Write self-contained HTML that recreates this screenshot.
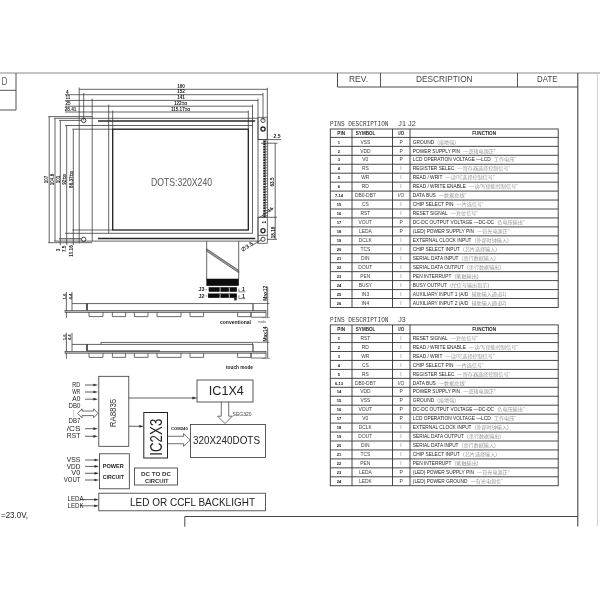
<!DOCTYPE html>
<html lang="en"><head><meta charset="utf-8"><title>LCD module drawing</title>
<style>html,body{margin:0;padding:0;background:#fff;}svg{display:block;transform:translateZ(0);}</style></head>
<body>
<svg width="600" height="600" viewBox="0 0 600 600">
<defs><filter id="soft" x="0" y="0" width="600" height="600" filterUnits="userSpaceOnUse"><feGaussianBlur stdDeviation="0.35"/></filter></defs>
<rect x="0" y="0" width="600" height="600" fill="#ffffff"/>
<g filter="url(#soft)">
<line x1="0" y1="73" x2="600" y2="73" stroke="#8a8a8a" stroke-width="1.2"/>
<line x1="16" y1="73" x2="16" y2="110" stroke="#444" stroke-width="0.9"/>
<line x1="0" y1="90.3" x2="16" y2="90.3" stroke="#444" stroke-width="0.9"/>
<line x1="0" y1="110" x2="16" y2="110" stroke="#444" stroke-width="0.9"/>
<text x="1.6" y="84.8" font-size="11" font-family='"Liberation Sans", "Noto Sans CJK SC", sans-serif' fill="#666" textLength="6" lengthAdjust="spacingAndGlyphs">D</text>
<line x1="337.5" y1="87" x2="577.5" y2="87" stroke="#333" stroke-width="0.9"/>
<line x1="337.5" y1="73" x2="337.5" y2="87" stroke="#333" stroke-width="0.9"/>
<line x1="380.5" y1="73" x2="380.5" y2="87" stroke="#444" stroke-width="0.9"/>
<line x1="517.5" y1="73" x2="517.5" y2="87" stroke="#444" stroke-width="0.9"/>
<line x1="577.8" y1="73" x2="577.8" y2="526.5" stroke="#333" stroke-width="1"/>
<line x1="597.5" y1="73" x2="597.5" y2="526" stroke="#c8c8c8" stroke-width="0.8"/>
<text x="358.5" y="82.2" font-size="8.6" font-family='"Liberation Sans", "Noto Sans CJK SC", sans-serif' fill="#444" text-anchor="middle" textLength="19" lengthAdjust="spacingAndGlyphs">REV.</text>
<text x="444.3" y="82.2" font-size="8.6" font-family='"Liberation Sans", "Noto Sans CJK SC", sans-serif' fill="#444" text-anchor="middle" textLength="56.5" lengthAdjust="spacingAndGlyphs">DESCRIPTION</text>
<text x="547.3" y="82.2" font-size="8.6" font-family='"Liberation Sans", "Noto Sans CJK SC", sans-serif' fill="#444" text-anchor="middle" textLength="20.5" lengthAdjust="spacingAndGlyphs">DATE</text>
<line x1="184.8" y1="516.5" x2="577.8" y2="516.5" stroke="#333" stroke-width="0.9"/>
<line x1="184.8" y1="516.5" x2="184.8" y2="526.7" stroke="#333" stroke-width="0.9"/>
<text x="1" y="518.3" font-size="9" font-family='"Liberation Sans", "Noto Sans CJK SC", sans-serif' fill="#222" textLength="27" lengthAdjust="spacingAndGlyphs">=23.0V,</text>
<text x="330" y="125.6" font-size="7.6" font-family='"Liberation Mono", "Noto Sans CJK SC", monospace' fill="#3a3a3a" textLength="58.5" lengthAdjust="spacingAndGlyphs">PINS DESCRIPTION</text>
<text x="398.3" y="125.6" font-size="7.6" font-family='"Liberation Sans", "Noto Sans CJK SC", sans-serif' fill="#444" textLength="17.5" lengthAdjust="spacingAndGlyphs">J1 J2</text>
<rect x="330.3" y="129" width="227.9" height="178.45" fill="none" stroke="#333" stroke-width="0.9"/>
<line x1="352" y1="129" x2="352" y2="307.45" stroke="#333" stroke-width="0.9"/>
<line x1="392.5" y1="129" x2="392.5" y2="307.45" stroke="#333" stroke-width="0.9"/>
<line x1="410" y1="129" x2="410" y2="307.45" stroke="#333" stroke-width="0.9"/>
<line x1="330.3" y1="137.4" x2="558.2" y2="137.4" stroke="#333" stroke-width="0.9"/>
<text x="341.15" y="134.9" font-size="4.6" font-family='"Liberation Sans", "Noto Sans CJK SC", sans-serif' fill="#222" text-anchor="middle" font-weight="bold">PIN</text>
<text x="355.8" y="134.9" font-size="4.6" font-family='"Liberation Sans", "Noto Sans CJK SC", sans-serif' fill="#222" font-weight="bold" textLength="19.5" lengthAdjust="spacingAndGlyphs">SYMBOL</text>
<text x="401.25" y="134.9" font-size="4.6" font-family='"Liberation Sans", "Noto Sans CJK SC", sans-serif' fill="#333" text-anchor="middle" font-weight="bold">I/O</text>
<text x="484.1" y="134.9" font-size="4.6" font-family='"Liberation Sans", "Noto Sans CJK SC", sans-serif' fill="#222" text-anchor="middle" font-weight="bold">FUNCTION</text>
<text x="338.95" y="143.57" font-size="4" font-family='"Liberation Sans", "Noto Sans CJK SC", sans-serif' fill="#111" text-anchor="middle" font-weight="bold">1</text>
<text x="365.3" y="143.57" font-size="4.9" font-family='"Liberation Sans", "Noto Sans CJK SC", sans-serif' fill="#3c3c3c" text-anchor="middle">VSS</text>
<text x="401.05" y="143.57" font-size="4.9" font-family='"Liberation Sans", "Noto Sans CJK SC", sans-serif' fill="#383838" text-anchor="middle">P</text>
<text x="412.8" y="143.57" font-size="4.8" font-family='"Liberation Sans", "Noto Sans CJK SC", sans-serif' fill="#262626">GROUND<tspan fill="#979797" font-size="5.1" dx="3.2">(接地端)</tspan></text>
<line x1="330.3" y1="146.35" x2="558.2" y2="146.35" stroke="#333" stroke-width="0.9"/>
<text x="338.95" y="152.52" font-size="4" font-family='"Liberation Sans", "Noto Sans CJK SC", sans-serif' fill="#111" text-anchor="middle" font-weight="bold">2</text>
<text x="365.3" y="152.52" font-size="4.9" font-family='"Liberation Sans", "Noto Sans CJK SC", sans-serif' fill="#3c3c3c" text-anchor="middle">VDD</text>
<text x="401.05" y="152.52" font-size="4.9" font-family='"Liberation Sans", "Noto Sans CJK SC", sans-serif' fill="#383838" text-anchor="middle">P</text>
<text x="412.8" y="152.52" font-size="4.8" font-family='"Liberation Sans", "Noto Sans CJK SC", sans-serif' fill="#262626">POWER SUPPLY PIN<tspan fill="#979797" font-size="5.1" dx="3.2">—逻辑电源正"</tspan></text>
<line x1="330.3" y1="155.3" x2="558.2" y2="155.3" stroke="#333" stroke-width="0.9"/>
<text x="338.95" y="161.47" font-size="4" font-family='"Liberation Sans", "Noto Sans CJK SC", sans-serif' fill="#111" text-anchor="middle" font-weight="bold">3</text>
<text x="365.3" y="161.47" font-size="4.9" font-family='"Liberation Sans", "Noto Sans CJK SC", sans-serif' fill="#3c3c3c" text-anchor="middle">V0</text>
<text x="401.05" y="161.47" font-size="4.9" font-family='"Liberation Sans", "Noto Sans CJK SC", sans-serif' fill="#383838" text-anchor="middle">P</text>
<text x="412.8" y="161.47" font-size="4.8" font-family='"Liberation Sans", "Noto Sans CJK SC", sans-serif' fill="#262626">LCD OPERATION VOLTAGE  —LCD<tspan fill="#979797" font-size="5.1" dx="3.2">工作电压"</tspan></text>
<line x1="330.3" y1="164.25" x2="558.2" y2="164.25" stroke="#333" stroke-width="0.9"/>
<text x="338.95" y="170.42" font-size="4" font-family='"Liberation Sans", "Noto Sans CJK SC", sans-serif' fill="#111" text-anchor="middle" font-weight="bold">4</text>
<text x="365.3" y="170.42" font-size="4.9" font-family='"Liberation Sans", "Noto Sans CJK SC", sans-serif' fill="#3c3c3c" text-anchor="middle">RS</text>
<text x="401.05" y="170.42" font-size="4.9" font-family='"Liberation Sans", "Noto Sans CJK SC", sans-serif' fill="#7a7a7a" text-anchor="middle">I</text>
<text x="412.8" y="170.42" font-size="4.8" font-family='"Liberation Sans", "Noto Sans CJK SC", sans-serif' fill="#262626">REGISTER SELEC<tspan fill="#979797" font-size="5.1" dx="3.2">—寄存器选择控制信号"</tspan></text>
<line x1="330.3" y1="173.2" x2="558.2" y2="173.2" stroke="#333" stroke-width="0.9"/>
<text x="338.95" y="179.37" font-size="4" font-family='"Liberation Sans", "Noto Sans CJK SC", sans-serif' fill="#111" text-anchor="middle" font-weight="bold">5</text>
<text x="365.3" y="179.37" font-size="4.9" font-family='"Liberation Sans", "Noto Sans CJK SC", sans-serif' fill="#3c3c3c" text-anchor="middle">WR</text>
<text x="401.05" y="179.37" font-size="4.9" font-family='"Liberation Sans", "Noto Sans CJK SC", sans-serif' fill="#7a7a7a" text-anchor="middle">I</text>
<text x="412.8" y="179.37" font-size="4.8" font-family='"Liberation Sans", "Noto Sans CJK SC", sans-serif' fill="#262626">READ / WRIT<tspan fill="#979797" font-size="5.1" dx="3.2">—读/写选择控制信号"</tspan></text>
<line x1="330.3" y1="182.15" x2="558.2" y2="182.15" stroke="#333" stroke-width="0.9"/>
<text x="338.95" y="188.32" font-size="4" font-family='"Liberation Sans", "Noto Sans CJK SC", sans-serif' fill="#111" text-anchor="middle" font-weight="bold">6</text>
<text x="365.3" y="188.32" font-size="4.9" font-family='"Liberation Sans", "Noto Sans CJK SC", sans-serif' fill="#3c3c3c" text-anchor="middle">RD</text>
<text x="401.05" y="188.32" font-size="4.9" font-family='"Liberation Sans", "Noto Sans CJK SC", sans-serif' fill="#7a7a7a" text-anchor="middle">I</text>
<text x="412.8" y="188.32" font-size="4.8" font-family='"Liberation Sans", "Noto Sans CJK SC", sans-serif' fill="#262626">READ / WRITE ENABLE<tspan fill="#979797" font-size="5.1" dx="3.2">—读/写使能控制信号"</tspan></text>
<line x1="330.3" y1="191.1" x2="558.2" y2="191.1" stroke="#333" stroke-width="0.9"/>
<text x="338.95" y="197.27" font-size="4" font-family='"Liberation Sans", "Noto Sans CJK SC", sans-serif' fill="#111" text-anchor="middle" font-weight="bold">7-14</text>
<text x="365.3" y="197.27" font-size="4.9" font-family='"Liberation Sans", "Noto Sans CJK SC", sans-serif' fill="#3c3c3c" text-anchor="middle">DB0-DB7</text>
<text x="401.05" y="197.27" font-size="4.9" font-family='"Liberation Sans", "Noto Sans CJK SC", sans-serif' fill="#484848" text-anchor="middle">I/O</text>
<text x="412.8" y="197.27" font-size="4.8" font-family='"Liberation Sans", "Noto Sans CJK SC", sans-serif' fill="#262626">DATA BUS<tspan fill="#979797" font-size="5.1" dx="3.2">—数据总线"</tspan></text>
<line x1="330.3" y1="200.05" x2="558.2" y2="200.05" stroke="#333" stroke-width="0.9"/>
<text x="338.95" y="206.22" font-size="4" font-family='"Liberation Sans", "Noto Sans CJK SC", sans-serif' fill="#111" text-anchor="middle" font-weight="bold">15</text>
<text x="365.3" y="206.22" font-size="4.9" font-family='"Liberation Sans", "Noto Sans CJK SC", sans-serif' fill="#3c3c3c" text-anchor="middle">CS</text>
<text x="401.05" y="206.22" font-size="4.9" font-family='"Liberation Sans", "Noto Sans CJK SC", sans-serif' fill="#7a7a7a" text-anchor="middle">I</text>
<text x="412.8" y="206.22" font-size="4.8" font-family='"Liberation Sans", "Noto Sans CJK SC", sans-serif' fill="#262626">CHIP SELECT PIN<tspan fill="#979797" font-size="5.1" dx="3.2">—片选信号"</tspan></text>
<line x1="330.3" y1="209" x2="558.2" y2="209" stroke="#333" stroke-width="0.9"/>
<text x="338.95" y="215.17" font-size="4" font-family='"Liberation Sans", "Noto Sans CJK SC", sans-serif' fill="#111" text-anchor="middle" font-weight="bold">16</text>
<text x="365.3" y="215.17" font-size="4.9" font-family='"Liberation Sans", "Noto Sans CJK SC", sans-serif' fill="#3c3c3c" text-anchor="middle">RST</text>
<text x="401.05" y="215.17" font-size="4.9" font-family='"Liberation Sans", "Noto Sans CJK SC", sans-serif' fill="#7a7a7a" text-anchor="middle">I</text>
<text x="412.8" y="215.17" font-size="4.8" font-family='"Liberation Sans", "Noto Sans CJK SC", sans-serif' fill="#262626">RESET SIGNAL<tspan fill="#979797" font-size="5.1" dx="3.2">—复位信号"</tspan></text>
<line x1="330.3" y1="217.95" x2="558.2" y2="217.95" stroke="#333" stroke-width="0.9"/>
<text x="338.95" y="224.12" font-size="4" font-family='"Liberation Sans", "Noto Sans CJK SC", sans-serif' fill="#111" text-anchor="middle" font-weight="bold">17</text>
<text x="365.3" y="224.12" font-size="4.9" font-family='"Liberation Sans", "Noto Sans CJK SC", sans-serif' fill="#3c3c3c" text-anchor="middle">VOUT</text>
<text x="401.05" y="224.12" font-size="4.9" font-family='"Liberation Sans", "Noto Sans CJK SC", sans-serif' fill="#383838" text-anchor="middle">P</text>
<text x="412.8" y="224.12" font-size="4.8" font-family='"Liberation Sans", "Noto Sans CJK SC", sans-serif' fill="#262626">DC-DC OUTPUT VOLTAGE  —DC-DC<tspan fill="#979797" font-size="5.1" dx="3.2">负电压输出"</tspan></text>
<line x1="330.3" y1="226.9" x2="558.2" y2="226.9" stroke="#333" stroke-width="0.9"/>
<text x="338.95" y="233.07" font-size="4" font-family='"Liberation Sans", "Noto Sans CJK SC", sans-serif' fill="#111" text-anchor="middle" font-weight="bold">18</text>
<text x="365.3" y="233.07" font-size="4.9" font-family='"Liberation Sans", "Noto Sans CJK SC", sans-serif' fill="#3c3c3c" text-anchor="middle">LEDA</text>
<text x="401.05" y="233.07" font-size="4.9" font-family='"Liberation Sans", "Noto Sans CJK SC", sans-serif' fill="#383838" text-anchor="middle">P</text>
<text x="412.8" y="233.07" font-size="4.8" font-family='"Liberation Sans", "Noto Sans CJK SC", sans-serif' fill="#262626">(LED)  POWER SUPPLY PIN<tspan fill="#979797" font-size="5.1" dx="3.2">—背光电源正"</tspan></text>
<line x1="330.3" y1="235.85" x2="558.2" y2="235.85" stroke="#333" stroke-width="0.9"/>
<text x="338.95" y="242.02" font-size="4" font-family='"Liberation Sans", "Noto Sans CJK SC", sans-serif' fill="#111" text-anchor="middle" font-weight="bold">19</text>
<text x="365.3" y="242.02" font-size="4.9" font-family='"Liberation Sans", "Noto Sans CJK SC", sans-serif' fill="#3c3c3c" text-anchor="middle">DCLK</text>
<text x="401.05" y="242.02" font-size="4.9" font-family='"Liberation Sans", "Noto Sans CJK SC", sans-serif' fill="#7a7a7a" text-anchor="middle">I</text>
<text x="412.8" y="242.02" font-size="4.8" font-family='"Liberation Sans", "Noto Sans CJK SC", sans-serif' fill="#262626">EXTERNAL CLOCK INPUT<tspan fill="#979797" font-size="5.1" dx="3.2">(外部时钟输入)</tspan></text>
<line x1="330.3" y1="244.8" x2="558.2" y2="244.8" stroke="#333" stroke-width="0.9"/>
<text x="338.95" y="250.97" font-size="4" font-family='"Liberation Sans", "Noto Sans CJK SC", sans-serif' fill="#111" text-anchor="middle" font-weight="bold">20</text>
<text x="365.3" y="250.97" font-size="4.9" font-family='"Liberation Sans", "Noto Sans CJK SC", sans-serif' fill="#3c3c3c" text-anchor="middle">TCS</text>
<text x="401.05" y="250.97" font-size="4.9" font-family='"Liberation Sans", "Noto Sans CJK SC", sans-serif' fill="#7a7a7a" text-anchor="middle">I</text>
<text x="412.8" y="250.97" font-size="4.8" font-family='"Liberation Sans", "Noto Sans CJK SC", sans-serif' fill="#262626">CHIP SELECT INPUT<tspan fill="#979797" font-size="5.1" dx="3.2">(芯片选择输入)</tspan></text>
<line x1="330.3" y1="253.75" x2="558.2" y2="253.75" stroke="#333" stroke-width="0.9"/>
<text x="338.95" y="259.93" font-size="4" font-family='"Liberation Sans", "Noto Sans CJK SC", sans-serif' fill="#111" text-anchor="middle" font-weight="bold">21</text>
<text x="365.3" y="259.93" font-size="4.9" font-family='"Liberation Sans", "Noto Sans CJK SC", sans-serif' fill="#3c3c3c" text-anchor="middle">DIN</text>
<text x="401.05" y="259.93" font-size="4.9" font-family='"Liberation Sans", "Noto Sans CJK SC", sans-serif' fill="#7a7a7a" text-anchor="middle">I</text>
<text x="412.8" y="259.93" font-size="4.8" font-family='"Liberation Sans", "Noto Sans CJK SC", sans-serif' fill="#262626">SERIAL DATA INPUT<tspan fill="#979797" font-size="5.1" dx="3.2">(串行数据输入)</tspan></text>
<line x1="330.3" y1="262.7" x2="558.2" y2="262.7" stroke="#333" stroke-width="0.9"/>
<text x="338.95" y="268.88" font-size="4" font-family='"Liberation Sans", "Noto Sans CJK SC", sans-serif' fill="#111" text-anchor="middle" font-weight="bold">22</text>
<text x="365.3" y="268.88" font-size="4.9" font-family='"Liberation Sans", "Noto Sans CJK SC", sans-serif' fill="#3c3c3c" text-anchor="middle">DOUT</text>
<text x="401.05" y="268.88" font-size="4.9" font-family='"Liberation Sans", "Noto Sans CJK SC", sans-serif' fill="#7a7a7a" text-anchor="middle">I</text>
<text x="412.8" y="268.88" font-size="4.8" font-family='"Liberation Sans", "Noto Sans CJK SC", sans-serif' fill="#262626">SERIAL DATA OUTPUT<tspan fill="#979797" font-size="5.1" dx="3.2">(串行数据输出)</tspan></text>
<line x1="330.3" y1="271.65" x2="558.2" y2="271.65" stroke="#333" stroke-width="0.9"/>
<text x="338.95" y="277.82" font-size="4" font-family='"Liberation Sans", "Noto Sans CJK SC", sans-serif' fill="#111" text-anchor="middle" font-weight="bold">23</text>
<text x="365.3" y="277.82" font-size="4.9" font-family='"Liberation Sans", "Noto Sans CJK SC", sans-serif' fill="#3c3c3c" text-anchor="middle">PEN</text>
<text x="401.05" y="277.82" font-size="4.9" font-family='"Liberation Sans", "Noto Sans CJK SC", sans-serif' fill="#7a7a7a" text-anchor="middle">I</text>
<text x="412.8" y="277.82" font-size="4.8" font-family='"Liberation Sans", "Noto Sans CJK SC", sans-serif' fill="#262626">PEN INTERRUPT<tspan fill="#979797" font-size="5.1" dx="3.2">(笔触输出)</tspan></text>
<line x1="330.3" y1="280.6" x2="558.2" y2="280.6" stroke="#333" stroke-width="0.9"/>
<text x="338.95" y="286.78" font-size="4" font-family='"Liberation Sans", "Noto Sans CJK SC", sans-serif' fill="#111" text-anchor="middle" font-weight="bold">24</text>
<text x="365.3" y="286.78" font-size="4.9" font-family='"Liberation Sans", "Noto Sans CJK SC", sans-serif' fill="#3c3c3c" text-anchor="middle">BUSY</text>
<text x="401.05" y="286.78" font-size="4.9" font-family='"Liberation Sans", "Noto Sans CJK SC", sans-serif' fill="#7a7a7a" text-anchor="middle">I</text>
<text x="412.8" y="286.78" font-size="4.8" font-family='"Liberation Sans", "Noto Sans CJK SC", sans-serif' fill="#262626">BUSY OUTPUT<tspan fill="#979797" font-size="5.1" dx="3.2">(忙信号输出指示)</tspan></text>
<line x1="330.3" y1="289.55" x2="558.2" y2="289.55" stroke="#333" stroke-width="0.9"/>
<text x="338.95" y="295.72" font-size="4" font-family='"Liberation Sans", "Noto Sans CJK SC", sans-serif' fill="#111" text-anchor="middle" font-weight="bold">25</text>
<text x="365.3" y="295.72" font-size="4.9" font-family='"Liberation Sans", "Noto Sans CJK SC", sans-serif' fill="#3c3c3c" text-anchor="middle">IN3</text>
<text x="401.05" y="295.72" font-size="4.9" font-family='"Liberation Sans", "Noto Sans CJK SC", sans-serif' fill="#7a7a7a" text-anchor="middle">I</text>
<text x="412.8" y="295.72" font-size="4.8" font-family='"Liberation Sans", "Noto Sans CJK SC", sans-serif' fill="#262626">AUXILIARY INPUT 1 (A/D<tspan fill="#979797" font-size="5.1" dx="3.2">辅助输入通道1)</tspan></text>
<line x1="330.3" y1="298.5" x2="558.2" y2="298.5" stroke="#333" stroke-width="0.9"/>
<text x="338.95" y="304.68" font-size="4" font-family='"Liberation Sans", "Noto Sans CJK SC", sans-serif' fill="#111" text-anchor="middle" font-weight="bold">26</text>
<text x="365.3" y="304.68" font-size="4.9" font-family='"Liberation Sans", "Noto Sans CJK SC", sans-serif' fill="#3c3c3c" text-anchor="middle">IN4</text>
<text x="401.05" y="304.68" font-size="4.9" font-family='"Liberation Sans", "Noto Sans CJK SC", sans-serif' fill="#7a7a7a" text-anchor="middle">I</text>
<text x="412.8" y="304.68" font-size="4.8" font-family='"Liberation Sans", "Noto Sans CJK SC", sans-serif' fill="#262626">AUXILIARY INPUT 2 (A/D<tspan fill="#979797" font-size="5.1" dx="3.2">辅助输入通道2)</tspan></text>
<text x="330" y="322.2" font-size="7.6" font-family='"Liberation Mono", "Noto Sans CJK SC", monospace' fill="#3a3a3a" textLength="58.5" lengthAdjust="spacingAndGlyphs">PINS DESCRIPTION</text>
<text x="398.3" y="322.2" font-size="7.6" font-family='"Liberation Sans", "Noto Sans CJK SC", sans-serif' fill="#444" textLength="7.5" lengthAdjust="spacingAndGlyphs">J3</text>
<rect x="330.3" y="324.9" width="227.9" height="160.85" fill="none" stroke="#333" stroke-width="0.9"/>
<line x1="352" y1="324.9" x2="352" y2="485.75" stroke="#333" stroke-width="0.9"/>
<line x1="392.5" y1="324.9" x2="392.5" y2="485.75" stroke="#333" stroke-width="0.9"/>
<line x1="410" y1="324.9" x2="410" y2="485.75" stroke="#333" stroke-width="0.9"/>
<line x1="330.3" y1="333.6" x2="558.2" y2="333.6" stroke="#333" stroke-width="0.9"/>
<text x="341.15" y="330.95" font-size="4.6" font-family='"Liberation Sans", "Noto Sans CJK SC", sans-serif' fill="#222" text-anchor="middle" font-weight="bold">PIN</text>
<text x="355.8" y="330.95" font-size="4.6" font-family='"Liberation Sans", "Noto Sans CJK SC", sans-serif' fill="#222" font-weight="bold" textLength="19.5" lengthAdjust="spacingAndGlyphs">SYMBOL</text>
<text x="401.25" y="330.95" font-size="4.6" font-family='"Liberation Sans", "Noto Sans CJK SC", sans-serif' fill="#333" text-anchor="middle" font-weight="bold">I/O</text>
<text x="484.1" y="330.95" font-size="4.6" font-family='"Liberation Sans", "Noto Sans CJK SC", sans-serif' fill="#222" text-anchor="middle" font-weight="bold">FUNCTION</text>
<text x="338.95" y="339.78" font-size="4" font-family='"Liberation Sans", "Noto Sans CJK SC", sans-serif' fill="#111" text-anchor="middle" font-weight="bold">1</text>
<text x="365.3" y="339.78" font-size="4.9" font-family='"Liberation Sans", "Noto Sans CJK SC", sans-serif' fill="#3c3c3c" text-anchor="middle">RST</text>
<text x="401.05" y="339.78" font-size="4.9" font-family='"Liberation Sans", "Noto Sans CJK SC", sans-serif' fill="#7a7a7a" text-anchor="middle">I</text>
<text x="412.8" y="339.78" font-size="4.8" font-family='"Liberation Sans", "Noto Sans CJK SC", sans-serif' fill="#262626">RESET SIGNAL<tspan fill="#979797" font-size="5.1" dx="3.2">—复位信号"</tspan></text>
<line x1="330.3" y1="342.55" x2="558.2" y2="342.55" stroke="#333" stroke-width="0.9"/>
<text x="338.95" y="348.73" font-size="4" font-family='"Liberation Sans", "Noto Sans CJK SC", sans-serif' fill="#111" text-anchor="middle" font-weight="bold">2</text>
<text x="365.3" y="348.73" font-size="4.9" font-family='"Liberation Sans", "Noto Sans CJK SC", sans-serif' fill="#3c3c3c" text-anchor="middle">RD</text>
<text x="401.05" y="348.73" font-size="4.9" font-family='"Liberation Sans", "Noto Sans CJK SC", sans-serif' fill="#7a7a7a" text-anchor="middle">I</text>
<text x="412.8" y="348.73" font-size="4.8" font-family='"Liberation Sans", "Noto Sans CJK SC", sans-serif' fill="#262626">READ / WRITE ENABLE<tspan fill="#979797" font-size="5.1" dx="3.2">—读/写使能控制信号"</tspan></text>
<line x1="330.3" y1="351.5" x2="558.2" y2="351.5" stroke="#333" stroke-width="0.9"/>
<text x="338.95" y="357.68" font-size="4" font-family='"Liberation Sans", "Noto Sans CJK SC", sans-serif' fill="#111" text-anchor="middle" font-weight="bold">3</text>
<text x="365.3" y="357.68" font-size="4.9" font-family='"Liberation Sans", "Noto Sans CJK SC", sans-serif' fill="#3c3c3c" text-anchor="middle">WR</text>
<text x="401.05" y="357.68" font-size="4.9" font-family='"Liberation Sans", "Noto Sans CJK SC", sans-serif' fill="#7a7a7a" text-anchor="middle">I</text>
<text x="412.8" y="357.68" font-size="4.8" font-family='"Liberation Sans", "Noto Sans CJK SC", sans-serif' fill="#262626">READ / WRIT<tspan fill="#979797" font-size="5.1" dx="3.2">—读/写选择控制信号"</tspan></text>
<line x1="330.3" y1="360.45" x2="558.2" y2="360.45" stroke="#333" stroke-width="0.9"/>
<text x="338.95" y="366.63" font-size="4" font-family='"Liberation Sans", "Noto Sans CJK SC", sans-serif' fill="#111" text-anchor="middle" font-weight="bold">4</text>
<text x="365.3" y="366.63" font-size="4.9" font-family='"Liberation Sans", "Noto Sans CJK SC", sans-serif' fill="#3c3c3c" text-anchor="middle">CS</text>
<text x="401.05" y="366.63" font-size="4.9" font-family='"Liberation Sans", "Noto Sans CJK SC", sans-serif' fill="#7a7a7a" text-anchor="middle">I</text>
<text x="412.8" y="366.63" font-size="4.8" font-family='"Liberation Sans", "Noto Sans CJK SC", sans-serif' fill="#262626">CHIP SELECT PIN<tspan fill="#979797" font-size="5.1" dx="3.2">—片选信号"</tspan></text>
<line x1="330.3" y1="369.4" x2="558.2" y2="369.4" stroke="#333" stroke-width="0.9"/>
<text x="338.95" y="375.58" font-size="4" font-family='"Liberation Sans", "Noto Sans CJK SC", sans-serif' fill="#111" text-anchor="middle" font-weight="bold">5</text>
<text x="365.3" y="375.58" font-size="4.9" font-family='"Liberation Sans", "Noto Sans CJK SC", sans-serif' fill="#3c3c3c" text-anchor="middle">RS</text>
<text x="401.05" y="375.58" font-size="4.9" font-family='"Liberation Sans", "Noto Sans CJK SC", sans-serif' fill="#7a7a7a" text-anchor="middle">I</text>
<text x="412.8" y="375.58" font-size="4.8" font-family='"Liberation Sans", "Noto Sans CJK SC", sans-serif' fill="#262626">REGISTER SELEC<tspan fill="#979797" font-size="5.1" dx="3.2">—寄存器选择控制信号"</tspan></text>
<line x1="330.3" y1="378.35" x2="558.2" y2="378.35" stroke="#333" stroke-width="0.9"/>
<text x="338.95" y="384.53" font-size="4" font-family='"Liberation Sans", "Noto Sans CJK SC", sans-serif' fill="#111" text-anchor="middle" font-weight="bold">6-13</text>
<text x="365.3" y="384.53" font-size="4.9" font-family='"Liberation Sans", "Noto Sans CJK SC", sans-serif' fill="#3c3c3c" text-anchor="middle">DB0-DB7</text>
<text x="401.05" y="384.53" font-size="4.9" font-family='"Liberation Sans", "Noto Sans CJK SC", sans-serif' fill="#484848" text-anchor="middle">I/O</text>
<text x="412.8" y="384.53" font-size="4.8" font-family='"Liberation Sans", "Noto Sans CJK SC", sans-serif' fill="#262626">DATA BUS<tspan fill="#979797" font-size="5.1" dx="3.2">—数据总线"</tspan></text>
<line x1="330.3" y1="387.3" x2="558.2" y2="387.3" stroke="#333" stroke-width="0.9"/>
<text x="338.95" y="393.48" font-size="4" font-family='"Liberation Sans", "Noto Sans CJK SC", sans-serif' fill="#111" text-anchor="middle" font-weight="bold">14</text>
<text x="365.3" y="393.48" font-size="4.9" font-family='"Liberation Sans", "Noto Sans CJK SC", sans-serif' fill="#3c3c3c" text-anchor="middle">VDD</text>
<text x="401.05" y="393.48" font-size="4.9" font-family='"Liberation Sans", "Noto Sans CJK SC", sans-serif' fill="#383838" text-anchor="middle">P</text>
<text x="412.8" y="393.48" font-size="4.8" font-family='"Liberation Sans", "Noto Sans CJK SC", sans-serif' fill="#262626">POWER SUPPLY PIN<tspan fill="#979797" font-size="5.1" dx="3.2">—逻辑电源正"</tspan></text>
<line x1="330.3" y1="396.25" x2="558.2" y2="396.25" stroke="#333" stroke-width="0.9"/>
<text x="338.95" y="402.43" font-size="4" font-family='"Liberation Sans", "Noto Sans CJK SC", sans-serif' fill="#111" text-anchor="middle" font-weight="bold">15</text>
<text x="365.3" y="402.43" font-size="4.9" font-family='"Liberation Sans", "Noto Sans CJK SC", sans-serif' fill="#3c3c3c" text-anchor="middle">VSS</text>
<text x="401.05" y="402.43" font-size="4.9" font-family='"Liberation Sans", "Noto Sans CJK SC", sans-serif' fill="#383838" text-anchor="middle">P</text>
<text x="412.8" y="402.43" font-size="4.8" font-family='"Liberation Sans", "Noto Sans CJK SC", sans-serif' fill="#262626">GROUND<tspan fill="#979797" font-size="5.1" dx="3.2">(接地端)</tspan></text>
<line x1="330.3" y1="405.2" x2="558.2" y2="405.2" stroke="#333" stroke-width="0.9"/>
<text x="338.95" y="411.38" font-size="4" font-family='"Liberation Sans", "Noto Sans CJK SC", sans-serif' fill="#111" text-anchor="middle" font-weight="bold">16</text>
<text x="365.3" y="411.38" font-size="4.9" font-family='"Liberation Sans", "Noto Sans CJK SC", sans-serif' fill="#3c3c3c" text-anchor="middle">VOUT</text>
<text x="401.05" y="411.38" font-size="4.9" font-family='"Liberation Sans", "Noto Sans CJK SC", sans-serif' fill="#383838" text-anchor="middle">P</text>
<text x="412.8" y="411.38" font-size="4.8" font-family='"Liberation Sans", "Noto Sans CJK SC", sans-serif' fill="#262626">DC-DC OUTPUT VOLTAGE  —DC-DC<tspan fill="#979797" font-size="5.1" dx="3.2">负电压输出"</tspan></text>
<line x1="330.3" y1="414.15" x2="558.2" y2="414.15" stroke="#333" stroke-width="0.9"/>
<text x="338.95" y="420.33" font-size="4" font-family='"Liberation Sans", "Noto Sans CJK SC", sans-serif' fill="#111" text-anchor="middle" font-weight="bold">17</text>
<text x="365.3" y="420.33" font-size="4.9" font-family='"Liberation Sans", "Noto Sans CJK SC", sans-serif' fill="#3c3c3c" text-anchor="middle">V0</text>
<text x="401.05" y="420.33" font-size="4.9" font-family='"Liberation Sans", "Noto Sans CJK SC", sans-serif' fill="#383838" text-anchor="middle">P</text>
<text x="412.8" y="420.33" font-size="4.8" font-family='"Liberation Sans", "Noto Sans CJK SC", sans-serif' fill="#262626">LCD OPERATION VOLTAGE  —LCD<tspan fill="#979797" font-size="5.1" dx="3.2">工作电压"</tspan></text>
<line x1="330.3" y1="423.1" x2="558.2" y2="423.1" stroke="#333" stroke-width="0.9"/>
<text x="338.95" y="429.28" font-size="4" font-family='"Liberation Sans", "Noto Sans CJK SC", sans-serif' fill="#111" text-anchor="middle" font-weight="bold">18</text>
<text x="365.3" y="429.28" font-size="4.9" font-family='"Liberation Sans", "Noto Sans CJK SC", sans-serif' fill="#3c3c3c" text-anchor="middle">DCLK</text>
<text x="401.05" y="429.28" font-size="4.9" font-family='"Liberation Sans", "Noto Sans CJK SC", sans-serif' fill="#7a7a7a" text-anchor="middle">I</text>
<text x="412.8" y="429.28" font-size="4.8" font-family='"Liberation Sans", "Noto Sans CJK SC", sans-serif' fill="#262626">EXTERNAL CLOCK INPUT<tspan fill="#979797" font-size="5.1" dx="3.2">(外部时钟输入)</tspan></text>
<line x1="330.3" y1="432.05" x2="558.2" y2="432.05" stroke="#333" stroke-width="0.9"/>
<text x="338.95" y="438.23" font-size="4" font-family='"Liberation Sans", "Noto Sans CJK SC", sans-serif' fill="#111" text-anchor="middle" font-weight="bold">19</text>
<text x="365.3" y="438.23" font-size="4.9" font-family='"Liberation Sans", "Noto Sans CJK SC", sans-serif' fill="#3c3c3c" text-anchor="middle">DOUT</text>
<text x="401.05" y="438.23" font-size="4.9" font-family='"Liberation Sans", "Noto Sans CJK SC", sans-serif' fill="#7a7a7a" text-anchor="middle">I</text>
<text x="412.8" y="438.23" font-size="4.8" font-family='"Liberation Sans", "Noto Sans CJK SC", sans-serif' fill="#262626">SERIAL DATA OUTPUT<tspan fill="#979797" font-size="5.1" dx="3.2">(串行数据输出)</tspan></text>
<line x1="330.3" y1="441" x2="558.2" y2="441" stroke="#333" stroke-width="0.9"/>
<text x="338.95" y="447.18" font-size="4" font-family='"Liberation Sans", "Noto Sans CJK SC", sans-serif' fill="#111" text-anchor="middle" font-weight="bold">20</text>
<text x="365.3" y="447.18" font-size="4.9" font-family='"Liberation Sans", "Noto Sans CJK SC", sans-serif' fill="#3c3c3c" text-anchor="middle">DIN</text>
<text x="401.05" y="447.18" font-size="4.9" font-family='"Liberation Sans", "Noto Sans CJK SC", sans-serif' fill="#7a7a7a" text-anchor="middle">I</text>
<text x="412.8" y="447.18" font-size="4.8" font-family='"Liberation Sans", "Noto Sans CJK SC", sans-serif' fill="#262626">SERIAL DATA INPUT<tspan fill="#979797" font-size="5.1" dx="3.2">(串行数据输入)</tspan></text>
<line x1="330.3" y1="449.95" x2="558.2" y2="449.95" stroke="#333" stroke-width="0.9"/>
<text x="338.95" y="456.13" font-size="4" font-family='"Liberation Sans", "Noto Sans CJK SC", sans-serif' fill="#111" text-anchor="middle" font-weight="bold">21</text>
<text x="365.3" y="456.13" font-size="4.9" font-family='"Liberation Sans", "Noto Sans CJK SC", sans-serif' fill="#3c3c3c" text-anchor="middle">TCS</text>
<text x="401.05" y="456.13" font-size="4.9" font-family='"Liberation Sans", "Noto Sans CJK SC", sans-serif' fill="#7a7a7a" text-anchor="middle">I</text>
<text x="412.8" y="456.13" font-size="4.8" font-family='"Liberation Sans", "Noto Sans CJK SC", sans-serif' fill="#262626">CHIP SELECT INPUT<tspan fill="#979797" font-size="5.1" dx="3.2">(芯片选择输入)</tspan></text>
<line x1="330.3" y1="458.9" x2="558.2" y2="458.9" stroke="#333" stroke-width="0.9"/>
<text x="338.95" y="465.07" font-size="4" font-family='"Liberation Sans", "Noto Sans CJK SC", sans-serif' fill="#111" text-anchor="middle" font-weight="bold">22</text>
<text x="365.3" y="465.07" font-size="4.9" font-family='"Liberation Sans", "Noto Sans CJK SC", sans-serif' fill="#3c3c3c" text-anchor="middle">PEN</text>
<text x="401.05" y="465.07" font-size="4.9" font-family='"Liberation Sans", "Noto Sans CJK SC", sans-serif' fill="#7a7a7a" text-anchor="middle">I</text>
<text x="412.8" y="465.07" font-size="4.8" font-family='"Liberation Sans", "Noto Sans CJK SC", sans-serif' fill="#262626">PEN INTERRUPT<tspan fill="#979797" font-size="5.1" dx="3.2">(笔触输出)</tspan></text>
<line x1="330.3" y1="467.85" x2="558.2" y2="467.85" stroke="#333" stroke-width="0.9"/>
<text x="338.95" y="474.03" font-size="4" font-family='"Liberation Sans", "Noto Sans CJK SC", sans-serif' fill="#111" text-anchor="middle" font-weight="bold">23</text>
<text x="365.3" y="474.03" font-size="4.9" font-family='"Liberation Sans", "Noto Sans CJK SC", sans-serif' fill="#3c3c3c" text-anchor="middle">LEDA</text>
<text x="401.05" y="474.03" font-size="4.9" font-family='"Liberation Sans", "Noto Sans CJK SC", sans-serif' fill="#383838" text-anchor="middle">P</text>
<text x="412.8" y="474.03" font-size="4.8" font-family='"Liberation Sans", "Noto Sans CJK SC", sans-serif' fill="#262626">(LED)  POWER SUPPLY PIN<tspan fill="#979797" font-size="5.1" dx="3.2">—背光电源正"</tspan></text>
<line x1="330.3" y1="476.8" x2="558.2" y2="476.8" stroke="#333" stroke-width="0.9"/>
<text x="338.95" y="482.98" font-size="4" font-family='"Liberation Sans", "Noto Sans CJK SC", sans-serif' fill="#111" text-anchor="middle" font-weight="bold">24</text>
<text x="365.3" y="482.98" font-size="4.9" font-family='"Liberation Sans", "Noto Sans CJK SC", sans-serif' fill="#3c3c3c" text-anchor="middle">LEDK</text>
<text x="401.05" y="482.98" font-size="4.9" font-family='"Liberation Sans", "Noto Sans CJK SC", sans-serif' fill="#383838" text-anchor="middle">P</text>
<text x="412.8" y="482.98" font-size="4.8" font-family='"Liberation Sans", "Noto Sans CJK SC", sans-serif' fill="#262626">(LED)  POWER GROUND<tspan fill="#979797" font-size="5.1" dx="3.2">—背光电源负"</tspan></text>
<line x1="79.2" y1="89.3" x2="267.3" y2="89.3" stroke="#3c3c3c" stroke-width="0.8"/>
<line x1="65" y1="94.7" x2="263" y2="94.7" stroke="#3c3c3c" stroke-width="0.8"/>
<line x1="65" y1="100.4" x2="258" y2="100.4" stroke="#3c3c3c" stroke-width="0.8"/>
<line x1="65" y1="106.2" x2="252.5" y2="106.2" stroke="#3c3c3c" stroke-width="0.8"/>
<line x1="65" y1="112" x2="248.3" y2="112" stroke="#3c3c3c" stroke-width="0.8"/>
<line x1="79.2" y1="87.5" x2="79.2" y2="243.3" stroke="#3c3c3c" stroke-width="0.8"/>
<line x1="83.7" y1="93" x2="83.7" y2="120.4" stroke="#3c3c3c" stroke-width="0.8"/>
<line x1="92.2" y1="98.6" x2="92.2" y2="241.3" stroke="#3c3c3c" stroke-width="0.8"/>
<line x1="108.7" y1="104.6" x2="108.7" y2="233.3" stroke="#3c3c3c" stroke-width="0.8"/>
<line x1="112.7" y1="110.5" x2="112.7" y2="129.2" stroke="#3c3c3c" stroke-width="0.8"/>
<line x1="248.3" y1="110.5" x2="248.3" y2="129.2" stroke="#3c3c3c" stroke-width="0.8"/>
<line x1="252.5" y1="104.6" x2="252.5" y2="233.3" stroke="#3c3c3c" stroke-width="0.8"/>
<line x1="258" y1="98.6" x2="258" y2="243.3" stroke="#3c3c3c" stroke-width="0.8"/>
<line x1="263" y1="93" x2="263" y2="120.4" stroke="#3c3c3c" stroke-width="0.8"/>
<line x1="267.3" y1="87.8" x2="267.3" y2="139.6" stroke="#3c3c3c" stroke-width="0.8"/>
<text x="181" y="88" font-size="4.6" font-family='"Liberation Sans", "Noto Sans CJK SC", sans-serif' fill="#222" text-anchor="middle" font-weight="bold">160</text>
<text x="181" y="93.4" font-size="4.6" font-family='"Liberation Sans", "Noto Sans CJK SC", sans-serif' fill="#222" text-anchor="middle" font-weight="bold">152</text>
<text x="181" y="99.1" font-size="4.6" font-family='"Liberation Sans", "Noto Sans CJK SC", sans-serif' fill="#222" text-anchor="middle" font-weight="bold">141</text>
<text x="180.5" y="104.9" font-size="4.6" font-family='"Liberation Sans", "Noto Sans CJK SC", sans-serif' fill="#222" text-anchor="middle" font-weight="bold">122±α</text>
<text x="180.5" y="110.7" font-size="4.6" font-family='"Liberation Sans", "Noto Sans CJK SC", sans-serif' fill="#222" text-anchor="middle" font-weight="bold">115.17±α</text>
<text x="66" y="93.5" font-size="4.6" font-family='"Liberation Sans", "Noto Sans CJK SC", sans-serif' fill="#222" font-weight="bold">4</text>
<text x="65.5" y="99.1" font-size="4.6" font-family='"Liberation Sans", "Noto Sans CJK SC", sans-serif' fill="#222" font-weight="bold">11</text>
<text x="65.5" y="104.9" font-size="4.6" font-family='"Liberation Sans", "Noto Sans CJK SC", sans-serif' fill="#222" font-weight="bold">25</text>
<text x="64.8" y="110.7" font-size="4.6" font-family='"Liberation Sans", "Noto Sans CJK SC", sans-serif' fill="#222" font-weight="bold">28.41</text>
<line x1="49.2" y1="116.6" x2="49.2" y2="242.7" stroke="#3c3c3c" stroke-width="0.8"/>
<line x1="55" y1="118.3" x2="55" y2="241.1" stroke="#3c3c3c" stroke-width="0.8"/>
<line x1="60.3" y1="120.4" x2="60.3" y2="239.3" stroke="#3c3c3c" stroke-width="0.8"/>
<line x1="66.7" y1="125.5" x2="66.7" y2="233.3" stroke="#3c3c3c" stroke-width="0.8"/>
<line x1="73.3" y1="129.2" x2="73.3" y2="230" stroke="#3c3c3c" stroke-width="0.8"/>
<line x1="48.2" y1="116.6" x2="92.2" y2="116.6" stroke="#3c3c3c" stroke-width="0.8"/>
<line x1="54" y1="118.3" x2="258" y2="118.3" stroke="#3c3c3c" stroke-width="0.8"/>
<line x1="59" y1="120.4" x2="81.6" y2="120.4" stroke="#3c3c3c" stroke-width="0.8"/>
<line x1="65" y1="125.5" x2="252.5" y2="125.5" stroke="#3c3c3c" stroke-width="0.8"/>
<line x1="72.3" y1="129.2" x2="112.7" y2="129.2" stroke="#3c3c3c" stroke-width="0.8"/>
<line x1="72.3" y1="230" x2="112.7" y2="230" stroke="#3c3c3c" stroke-width="0.8"/>
<line x1="65" y1="233.3" x2="252.5" y2="233.3" stroke="#3c3c3c" stroke-width="0.8"/>
<line x1="59" y1="238.8" x2="81.6" y2="238.8" stroke="#3c3c3c" stroke-width="1"/>
<line x1="54" y1="241.1" x2="258" y2="241.1" stroke="#3c3c3c" stroke-width="0.8"/>
<line x1="48.2" y1="242.7" x2="92.2" y2="242.7" stroke="#3c3c3c" stroke-width="0.8"/>
<text x="48.4" y="179.5" font-size="4.6" font-family='"Liberation Sans", "Noto Sans CJK SC", sans-serif' fill="#222" text-anchor="middle" font-weight="bold" transform="rotate(-90 48.4 179.5)">107</text>
<text x="54.3" y="179.5" font-size="4.6" font-family='"Liberation Sans", "Noto Sans CJK SC", sans-serif' fill="#222" text-anchor="middle" font-weight="bold" transform="rotate(-90 54.3 179.5)">104.6</text>
<text x="59.6" y="179.5" font-size="4.6" font-family='"Liberation Sans", "Noto Sans CJK SC", sans-serif' fill="#222" text-anchor="middle" font-weight="bold" transform="rotate(-90 59.6 179.5)">101</text>
<text x="66" y="179.5" font-size="4.6" font-family='"Liberation Sans", "Noto Sans CJK SC", sans-serif' fill="#222" text-anchor="middle" font-weight="bold" transform="rotate(-90 66 179.5)">92±α</text>
<text x="72.6" y="179.5" font-size="4.6" font-family='"Liberation Sans", "Noto Sans CJK SC", sans-serif' fill="#222" text-anchor="middle" font-weight="bold" transform="rotate(-90 72.6 179.5)">86.37±α</text>
<line x1="60.3" y1="239.3" x2="60.3" y2="245" stroke="#3c3c3c" stroke-width="0.8"/>
<line x1="66.7" y1="233.3" x2="66.7" y2="245" stroke="#3c3c3c" stroke-width="0.8"/>
<line x1="73.3" y1="230" x2="73.3" y2="245" stroke="#3c3c3c" stroke-width="0.8"/>
<text x="60.4" y="251.3" font-size="4.6" font-family='"Liberation Sans", "Noto Sans CJK SC", sans-serif' fill="#222" font-weight="bold" transform="rotate(-90 60.4 251.3)">3</text>
<text x="66.3" y="252" font-size="4.6" font-family='"Liberation Sans", "Noto Sans CJK SC", sans-serif' fill="#222" font-weight="bold" transform="rotate(-90 66.3 252)">7.5</text>
<text x="73.3" y="256.8" font-size="4.6" font-family='"Liberation Sans", "Noto Sans CJK SC", sans-serif' fill="#222" font-weight="bold" transform="rotate(-90 73.3 256.8)">10.16</text>
<line x1="98" y1="121" x2="255.2" y2="121" stroke="#2a2a2a" stroke-width="1.5"/>
<line x1="98" y1="238.6" x2="255.2" y2="238.6" stroke="#2a2a2a" stroke-width="1.5"/>
<rect x="112.7" y="129.2" width="135.6" height="100.8" fill="none" stroke="#1c1c1c" stroke-width="1.3"/>
<circle cx="83.7" cy="120.4" r="2.2" fill="none" stroke="#333" stroke-width="0.9"/>
<circle cx="83.7" cy="239.3" r="2.2" fill="none" stroke="#333" stroke-width="0.9"/>
<text x="181.5" y="186.3" font-size="10.5" font-family='"Liberation Sans", "Noto Sans CJK SC", sans-serif' fill="#555" text-anchor="middle" textLength="61" lengthAdjust="spacingAndGlyphs">DOTS:320X240</text>
<rect x="258" y="117.3" width="9.3" height="22.3" fill="none" stroke="#555" stroke-width="0.8"/>
<circle cx="263" cy="120.4" r="2.1" fill="none" stroke="#333" stroke-width="0.9"/>
<circle cx="263" cy="129.1" r="2.1" fill="none" stroke="#222" stroke-width="1.3"/>
<line x1="258" y1="139.6" x2="281" y2="139.6" stroke="#3c3c3c" stroke-width="0.8"/>
<text x="277" y="138.2" font-size="5" font-family='"Liberation Sans", "Noto Sans CJK SC", sans-serif' fill="#222" text-anchor="middle" font-weight="bold">2.5</text>
<line x1="261" y1="143.2" x2="277.5" y2="143.2" stroke="#3c3c3c" stroke-width="0.8"/>
<line x1="264.4" y1="140.5" x2="264.4" y2="217.3" stroke="#1e1e1e" stroke-width="2.3" stroke-dasharray="1.9 0.77"/>
<line x1="266.5" y1="140.5" x2="266.5" y2="217.3" stroke="#6a6a6a" stroke-width="1.9" stroke-dasharray="1.0 1.67"/>
<line x1="267.6" y1="140.5" x2="267.6" y2="217.3" stroke="#333" stroke-width="0.7"/>
<line x1="265.4" y1="140.5" x2="265.4" y2="217.3" stroke="#333" stroke-width="0.5"/>
<line x1="275.2" y1="143.2" x2="275.2" y2="239.3" stroke="#3c3c3c" stroke-width="0.8"/>
<text x="273.6" y="182" font-size="4.6" font-family='"Liberation Sans", "Noto Sans CJK SC", sans-serif' fill="#222" text-anchor="middle" font-weight="bold" transform="rotate(-90 273.6 182)">63.5</text>
<line x1="258" y1="217.3" x2="277" y2="217.3" stroke="#3c3c3c" stroke-width="0.8"/>
<line x1="259.5" y1="217.5" x2="273.5" y2="208" stroke="#3c3c3c" stroke-width="0.8"/>
<text x="271.2" y="210.8" font-size="4.6" font-family='"Liberation Sans", "Noto Sans CJK SC", sans-serif' fill="#222" text-anchor="middle" font-weight="bold" transform="rotate(-38 271.2 210.8)">15</text>
<rect x="258" y="217.3" width="9.3" height="26" fill="none" stroke="#555" stroke-width="0.8"/>
<line x1="258" y1="235.3" x2="267.3" y2="235.3" stroke="#3c3c3c" stroke-width="0.8"/>
<circle cx="263" cy="230.7" r="2.1" fill="none" stroke="#222" stroke-width="1.3"/>
<circle cx="263" cy="239.3" r="2.1" fill="none" stroke="#333" stroke-width="0.9"/>
<line x1="267" y1="239.3" x2="277" y2="239.3" stroke="#3c3c3c" stroke-width="0.8"/>
<text x="274.6" y="232.5" font-size="4.6" font-family='"Liberation Sans", "Noto Sans CJK SC", sans-serif' fill="#222" text-anchor="middle" font-weight="bold" transform="rotate(-90 274.6 232.5)">18.18</text>
<text x="266" y="222.3" font-size="4.6" font-family='"Liberation Sans", "Noto Sans CJK SC", sans-serif' fill="#222" text-anchor="middle" font-weight="bold" transform="rotate(-90 266 222.3)">1</text>
<line x1="252" y1="245.4" x2="261" y2="240" stroke="#3c3c3c" stroke-width="0.8"/>
<text x="248" y="248.3" font-size="5.6" font-family='"Liberation Sans", "Noto Sans CJK SC", sans-serif' fill="#222" text-anchor="middle" font-weight="bold" transform="rotate(-35 248 248.3)">∅3.5</text>
<line x1="206.7" y1="241.1" x2="206.7" y2="279" stroke="#3c3c3c" stroke-width="0.8"/>
<line x1="238.7" y1="241.1" x2="238.7" y2="279" stroke="#3c3c3c" stroke-width="0.8"/>
<path d="M206.7 248.8 L238.7 270.3 L238.7 272.7 L206.7 251.2 Z" fill="#9a9a9a" stroke="#333" stroke-width="0.6"/>
<rect x="206.7" y="279" width="32" height="6.7" fill="#111" stroke="#111" stroke-width="0.5"/>
<rect x="208.9" y="287.3" width="10.7" height="4.4" fill="#111" stroke="#111" stroke-width="0.3"/>
<rect x="220.6" y="287.3" width="8.2" height="4.4" fill="#111" stroke="#111" stroke-width="0.3"/>
<rect x="229.8" y="287.3" width="7" height="4.4" fill="#111" stroke="#111" stroke-width="0.3"/>
<rect x="208.1" y="293.7" width="11.5" height="4.1" fill="#111" stroke="#111" stroke-width="0.3"/>
<rect x="220.6" y="293.7" width="8.2" height="4.1" fill="#111" stroke="#111" stroke-width="0.3"/>
<rect x="229.8" y="293.7" width="7" height="4.1" fill="#111" stroke="#111" stroke-width="0.3"/>
<rect x="234.3" y="297.8" width="2.3" height="2.4" fill="#222" stroke="#222" stroke-width="0.3"/>
<text x="201.5" y="291.4" font-size="5.4" font-family='"Liberation Sans", "Noto Sans CJK SC", sans-serif' fill="#222" text-anchor="middle" font-weight="bold">J3</text>
<text x="201.5" y="297.9" font-size="5.4" font-family='"Liberation Sans", "Noto Sans CJK SC", sans-serif' fill="#222" text-anchor="middle" font-weight="bold">J2</text>
<line x1="206.2" y1="289" x2="206.2" y2="290.4" stroke="#444" stroke-width="0.6"/>
<line x1="206.2" y1="295.3" x2="206.2" y2="296.7" stroke="#444" stroke-width="0.6"/>
<text x="243.4" y="291.2" font-size="5.2" font-family='"Liberation Sans", "Noto Sans CJK SC", sans-serif' fill="#222" text-anchor="middle" font-weight="bold">1</text>
<text x="243.4" y="297.9" font-size="5.2" font-family='"Liberation Sans", "Noto Sans CJK SC", sans-serif' fill="#222" text-anchor="middle" font-weight="bold">1</text>
<line x1="239" y1="291.9" x2="245.3" y2="291.9" stroke="#333" stroke-width="0.6"/>
<line x1="239" y1="298.6" x2="245.3" y2="298.6" stroke="#333" stroke-width="0.6"/>
<line x1="238.9" y1="288.6" x2="238.9" y2="291.9" stroke="#333" stroke-width="0.6"/>
<line x1="238.9" y1="295.3" x2="238.9" y2="298.6" stroke="#333" stroke-width="0.6"/>
<line x1="66.4" y1="292" x2="66.4" y2="318" stroke="#3c3c3c" stroke-width="0.8"/>
<line x1="72" y1="292" x2="72" y2="310.6" stroke="#3c3c3c" stroke-width="0.8"/>
<text x="66" y="299.5" font-size="4.3" font-family='"Liberation Sans", "Noto Sans CJK SC", sans-serif' fill="#222" font-weight="bold" transform="rotate(-90 66 299.5)">1.6</text>
<text x="71.5" y="299.5" font-size="4.3" font-family='"Liberation Sans", "Noto Sans CJK SC", sans-serif' fill="#222" font-weight="bold" transform="rotate(-90 71.5 299.5)">4.4</text>
<line x1="72" y1="303.6" x2="253" y2="303.6" stroke="#3c3c3c" stroke-width="0.8"/>
<line x1="87" y1="303.6" x2="87" y2="310.6" stroke="#111" stroke-width="1.4"/>
<rect x="65" y="310.6" width="201" height="1.8" fill="#b5b5b5" stroke="#333" stroke-width="0.6"/>
<path d="M89 312.4 V316.6 H103 V312.4" fill="none" stroke="#333" stroke-width="0.7"/>
<path d="M112.4 312.4 V316.6 H125.6 V312.4" fill="none" stroke="#333" stroke-width="0.7"/>
<path d="M134.4 312.4 V316.6 H148 V312.4" fill="none" stroke="#333" stroke-width="0.7"/>
<path d="M157 312.4 V316.6 H181 V312.4" fill="none" stroke="#333" stroke-width="0.7"/>
<path d="M190 312.4 V316.6 H203.6 V312.4" fill="none" stroke="#333" stroke-width="0.7"/>
<path d="M237.6 312.4 V316.6 H251 V312.4" fill="none" stroke="#333" stroke-width="0.7"/>
<path d="M251 312.4 V317.2 H266 V312.4" fill="none" stroke="#333" stroke-width="0.7"/>
<line x1="253" y1="303.6" x2="253" y2="310.6" stroke="#222" stroke-width="1"/>
<line x1="267.7" y1="286.5" x2="267.7" y2="317.8" stroke="#3c3c3c" stroke-width="0.8"/>
<line x1="253" y1="303.5" x2="269.5" y2="303.5" stroke="#444" stroke-width="0.7"/>
<line x1="262" y1="317.6" x2="270" y2="317.6" stroke="#555" stroke-width="0.5"/>
<text x="266.6" y="293.3" font-size="4.9" font-family='"Liberation Sans", "Noto Sans CJK SC", sans-serif' fill="#222" text-anchor="middle" font-weight="bold" transform="rotate(-90 266.6 293.3)">Max12</text>
<line x1="66.4" y1="332.8" x2="66.4" y2="358.8" stroke="#3c3c3c" stroke-width="0.8"/>
<line x1="72" y1="332.8" x2="72" y2="351.4" stroke="#3c3c3c" stroke-width="0.8"/>
<text x="66" y="340.3" font-size="4.3" font-family='"Liberation Sans", "Noto Sans CJK SC", sans-serif' fill="#222" font-weight="bold" transform="rotate(-90 66 340.3)">1.6</text>
<text x="71.5" y="340.3" font-size="4.3" font-family='"Liberation Sans", "Noto Sans CJK SC", sans-serif' fill="#222" font-weight="bold" transform="rotate(-90 71.5 340.3)">4.4</text>
<line x1="72" y1="344.4" x2="253" y2="344.4" stroke="#3c3c3c" stroke-width="0.8"/>
<line x1="87" y1="344.4" x2="87" y2="351.4" stroke="#111" stroke-width="1.4"/>
<rect x="65" y="351.4" width="201" height="1.8" fill="#b5b5b5" stroke="#333" stroke-width="0.6"/>
<path d="M89 353.2 V357.4 H103 V353.2" fill="none" stroke="#333" stroke-width="0.7"/>
<path d="M112.4 353.2 V357.4 H125.6 V353.2" fill="none" stroke="#333" stroke-width="0.7"/>
<path d="M134.4 353.2 V357.4 H148 V353.2" fill="none" stroke="#333" stroke-width="0.7"/>
<path d="M157 353.2 V357.4 H181 V353.2" fill="none" stroke="#333" stroke-width="0.7"/>
<path d="M190 353.2 V357.4 H203.6 V353.2" fill="none" stroke="#333" stroke-width="0.7"/>
<path d="M237.6 353.2 V357.4 H251 V353.2" fill="none" stroke="#333" stroke-width="0.7"/>
<path d="M251 353.2 V358 H266 V353.2" fill="none" stroke="#333" stroke-width="0.7"/>
<line x1="253" y1="344.4" x2="253" y2="351.4" stroke="#222" stroke-width="1"/>
<line x1="101" y1="342.4" x2="252.4" y2="342.4" stroke="#3c3c3c" stroke-width="0.8"/>
<line x1="101" y1="342.4" x2="101" y2="344.4" stroke="#3c3c3c" stroke-width="0.8"/>
<line x1="252.4" y1="342.4" x2="252.4" y2="344.4" stroke="#3c3c3c" stroke-width="0.8"/>
<line x1="88" y1="350.9" x2="160" y2="350.9" stroke="#444" stroke-width="1"/>
<line x1="267.7" y1="327.5" x2="267.7" y2="358.5" stroke="#3c3c3c" stroke-width="0.8"/>
<line x1="253" y1="342.3" x2="269.5" y2="342.3" stroke="#444" stroke-width="0.7"/>
<line x1="262" y1="358.4" x2="270" y2="358.4" stroke="#555" stroke-width="0.5"/>
<text x="266.6" y="334" font-size="4.9" font-family='"Liberation Sans", "Noto Sans CJK SC", sans-serif' fill="#222" text-anchor="middle" font-weight="bold" transform="rotate(-90 266.6 334)">Max14</text>
<text x="220" y="323.6" font-size="4.6" font-family='"Liberation Sans", "Noto Sans CJK SC", sans-serif' fill="#222" font-weight="bold" textLength="31" lengthAdjust="spacingAndGlyphs">conventional</text>
<text x="258" y="323.4" font-size="3" font-family='"Liberation Sans", "Noto Sans CJK SC", sans-serif' fill="#555" textLength="8" lengthAdjust="spacingAndGlyphs">mode</text>
<text x="226" y="368.6" font-size="4.6" font-family='"Liberation Sans", "Noto Sans CJK SC", sans-serif' fill="#222" font-weight="bold" textLength="27" lengthAdjust="spacingAndGlyphs">touch mode</text>
<rect x="98.8" y="376.3" width="30" height="70" fill="none" stroke="#333" stroke-width="0.8"/>
<text x="116.3" y="413" font-size="9" font-family='"Liberation Sans", "Noto Sans CJK SC", sans-serif' fill="#333" text-anchor="middle" textLength="28.5" lengthAdjust="spacingAndGlyphs" transform="rotate(-90 116.3 413)">RA8835</text>
<rect x="143.8" y="412.5" width="23.7" height="45.5" fill="none" stroke="#222" stroke-width="1"/>
<text x="162.2" y="437.2" font-size="17" font-family='"Liberation Sans", "Noto Sans CJK SC", sans-serif' fill="#222" text-anchor="middle" textLength="37" lengthAdjust="spacingAndGlyphs" transform="rotate(-90 162.2 437.2)">IC2X3</text>
<rect x="197" y="380" width="56" height="22" fill="none" stroke="#333" stroke-width="0.8"/>
<text x="226.3" y="395" font-size="12.2" font-family='"Liberation Sans", "Noto Sans CJK SC", sans-serif' fill="#222" text-anchor="middle" textLength="35" lengthAdjust="spacingAndGlyphs">IC1X4</text>
<rect x="190.5" y="424.5" width="75" height="33" fill="none" stroke="#333" stroke-width="0.8"/>
<text x="226.5" y="443.6" font-size="11.3" font-family='"Liberation Sans", "Noto Sans CJK SC", sans-serif' fill="#222" text-anchor="middle" textLength="67" lengthAdjust="spacingAndGlyphs">320X240DOTS</text>
<rect x="99.5" y="453.8" width="29.8" height="35" fill="none" stroke="#333" stroke-width="0.8"/>
<text x="113.3" y="468.4" font-size="5.8" font-family='"Liberation Sans", "Noto Sans CJK SC", sans-serif' fill="#222" text-anchor="middle" font-weight="bold" textLength="21" lengthAdjust="spacingAndGlyphs">POWER</text>
<text x="113.3" y="478.9" font-size="5.6" font-family='"Liberation Sans", "Noto Sans CJK SC", sans-serif' fill="#222" text-anchor="middle" font-weight="bold" textLength="21" lengthAdjust="spacingAndGlyphs">CIRCUIT</text>
<rect x="134.5" y="468" width="43" height="17" fill="none" stroke="#333" stroke-width="0.8"/>
<text x="156" y="475.9" font-size="6" font-family='"Liberation Sans", "Noto Sans CJK SC", sans-serif' fill="#333" text-anchor="middle" font-weight="bold" textLength="30" lengthAdjust="spacingAndGlyphs">DC TO DC</text>
<text x="156.8" y="483.4" font-size="5.9" font-family='"Liberation Sans", "Noto Sans CJK SC", sans-serif' fill="#333" text-anchor="middle" font-weight="bold" textLength="23.7" lengthAdjust="spacingAndGlyphs">CIRCUIT</text>
<rect x="98.8" y="493.2" width="166.6" height="17.6" fill="none" stroke="#333" stroke-width="0.8"/>
<text x="192.5" y="506" font-size="11.2" font-family='"Liberation Sans", "Noto Sans CJK SC", sans-serif' fill="#222" text-anchor="middle" textLength="125" lengthAdjust="spacingAndGlyphs">LED OR CCFL BACKLIGHT</text>
<text x="80.3" y="387.1" font-size="7" font-family='"Liberation Sans", "Noto Sans CJK SC", sans-serif' fill="#222" text-anchor="end" textLength="8" lengthAdjust="spacingAndGlyphs">RD</text>
<line x1="85" y1="385" x2="95.5" y2="385" stroke="#222" stroke-width="0.7"/>
<path d="M97.5 385 L93.5 383.9 L93.5 386.1 Z" fill="#222" stroke="#222" stroke-width="0.2"/>
<text x="80.3" y="394.1" font-size="7" font-family='"Liberation Sans", "Noto Sans CJK SC", sans-serif' fill="#222" text-anchor="end" textLength="8" lengthAdjust="spacingAndGlyphs">WR</text>
<line x1="85" y1="392" x2="95.5" y2="392" stroke="#222" stroke-width="0.7"/>
<path d="M97.5 392 L93.5 390.9 L93.5 393.1 Z" fill="#222" stroke="#222" stroke-width="0.2"/>
<text x="80.3" y="401.3" font-size="7" font-family='"Liberation Sans", "Noto Sans CJK SC", sans-serif' fill="#222" text-anchor="end" textLength="8" lengthAdjust="spacingAndGlyphs">A0</text>
<line x1="85" y1="399.2" x2="95.5" y2="399.2" stroke="#222" stroke-width="0.7"/>
<path d="M97.5 399.2 L93.5 398.1 L93.5 400.3 Z" fill="#222" stroke="#222" stroke-width="0.2"/>
<text x="80.3" y="408.3" font-size="7" font-family='"Liberation Sans", "Noto Sans CJK SC", sans-serif' fill="#222" text-anchor="end" textLength="11.8" lengthAdjust="spacingAndGlyphs">DB0</text>
<text x="80.3" y="423.3" font-size="7" font-family='"Liberation Sans", "Noto Sans CJK SC", sans-serif' fill="#222" text-anchor="end" textLength="11.8" lengthAdjust="spacingAndGlyphs">DB7</text>
<text x="80.3" y="430.8" font-size="7" font-family='"Liberation Sans", "Noto Sans CJK SC", sans-serif' fill="#222" text-anchor="end" textLength="13.5" lengthAdjust="spacingAndGlyphs">/CS</text>
<text x="80.3" y="438.4" font-size="7" font-family='"Liberation Sans", "Noto Sans CJK SC", sans-serif' fill="#222" text-anchor="end" textLength="13.5" lengthAdjust="spacingAndGlyphs">RST</text>
<line x1="85" y1="428.7" x2="95.5" y2="428.7" stroke="#222" stroke-width="0.7"/>
<path d="M97.5 428.7 L93.5 427.6 L93.5 429.8 Z" fill="#222" stroke="#222" stroke-width="0.2"/>
<line x1="85" y1="436.3" x2="95.5" y2="436.3" stroke="#222" stroke-width="0.7"/>
<path d="M97.5 436.3 L93.5 435.2 L93.5 437.4 Z" fill="#222" stroke="#222" stroke-width="0.2"/>
<line x1="73.6" y1="410.5" x2="73.6" y2="417" stroke="#444" stroke-width="0.7" stroke-dasharray="0.8 1.2"/>
<path d="M77.6 413.3 L82 408.8 V411 H93.6 V408.8 L98 413.3 L93.6 417.8 V415.6 H82 V417.8 Z" fill="none" stroke="#333" stroke-width="0.7"/>
<line x1="128.8" y1="398" x2="193" y2="398" stroke="#222" stroke-width="0.7"/>
<path d="M197 398 L192.5 396.8 L192.5 399.2 Z" fill="#222" stroke="#222" stroke-width="0.2"/>
<line x1="128.8" y1="426.3" x2="141.4" y2="426.3" stroke="#222" stroke-width="0.7"/>
<path d="M143.4 426.3 L139.4 425.2 L139.4 427.4 Z" fill="#222" stroke="#222" stroke-width="0.2"/>
<path d="M167.5 436.3 H183.6 V433.6 L190.2 440 L183.6 446.4 V443.7 H167.5" fill="none" stroke="#333" stroke-width="0.7"/>
<text x="171" y="429.8" font-size="4.2" font-family='"Liberation Sans", "Noto Sans CJK SC", sans-serif' fill="#222" font-weight="bold">COM240</text>
<path d="M221.3 402 V416.2 H217.6 L225 423.6 L232.4 416.2 H228.7 V402" fill="none" stroke="#333" stroke-width="0.7"/>
<text x="232.6" y="416.2" font-size="5" font-family='"Liberation Sans", "Noto Sans CJK SC", sans-serif' fill="#444">SEG320</text>
<text x="80.3" y="462.1" font-size="7" font-family='"Liberation Sans", "Noto Sans CJK SC", sans-serif' fill="#222" text-anchor="end" textLength="13.6" lengthAdjust="spacingAndGlyphs">VSS</text>
<line x1="85" y1="460" x2="96.6" y2="460" stroke="#222" stroke-width="0.7"/>
<path d="M98.6 460 L94.6 458.9 L94.6 461.1 Z" fill="#222" stroke="#222" stroke-width="0.2"/>
<text x="80.3" y="468.5" font-size="7" font-family='"Liberation Sans", "Noto Sans CJK SC", sans-serif' fill="#222" text-anchor="end" textLength="13.6" lengthAdjust="spacingAndGlyphs">VDD</text>
<line x1="85" y1="466.4" x2="96.6" y2="466.4" stroke="#222" stroke-width="0.7"/>
<path d="M98.6 466.4 L94.6 465.3 L94.6 467.5 Z" fill="#222" stroke="#222" stroke-width="0.2"/>
<text x="80.3" y="475.4" font-size="7" font-family='"Liberation Sans", "Noto Sans CJK SC", sans-serif' fill="#222" text-anchor="end" textLength="9" lengthAdjust="spacingAndGlyphs">V0</text>
<line x1="85" y1="473.3" x2="96.6" y2="473.3" stroke="#222" stroke-width="0.7"/>
<path d="M98.6 473.3 L94.6 472.2 L94.6 474.4 Z" fill="#222" stroke="#222" stroke-width="0.2"/>
<text x="80.3" y="482.1" font-size="7" font-family='"Liberation Sans", "Noto Sans CJK SC", sans-serif' fill="#222" text-anchor="end" textLength="16.5" lengthAdjust="spacingAndGlyphs">VOUT</text>
<line x1="85" y1="480" x2="96.6" y2="480" stroke="#222" stroke-width="0.7"/>
<path d="M98.6 480 L94.6 478.9 L94.6 481.1 Z" fill="#222" stroke="#222" stroke-width="0.2"/>
<text x="67.5" y="501.3" font-size="7" font-family='"Liberation Sans", "Noto Sans CJK SC", sans-serif' fill="#222" textLength="16" lengthAdjust="spacingAndGlyphs">LEDA</text>
<text x="67.5" y="507.8" font-size="7" font-family='"Liberation Sans", "Noto Sans CJK SC", sans-serif' fill="#222" textLength="16" lengthAdjust="spacingAndGlyphs">LEDK</text>
<line x1="80" y1="499.6" x2="96.4" y2="499.6" stroke="#222" stroke-width="0.7"/>
<path d="M98.4 499.6 L94.4 498.5 L94.4 500.7 Z" fill="#222" stroke="#222" stroke-width="0.2"/>
<line x1="80" y1="505.8" x2="96.4" y2="505.8" stroke="#222" stroke-width="0.7"/>
<path d="M98.4 505.8 L94.4 504.7 L94.4 506.9 Z" fill="#222" stroke="#222" stroke-width="0.2"/>
</g>
</svg>
</body></html>
